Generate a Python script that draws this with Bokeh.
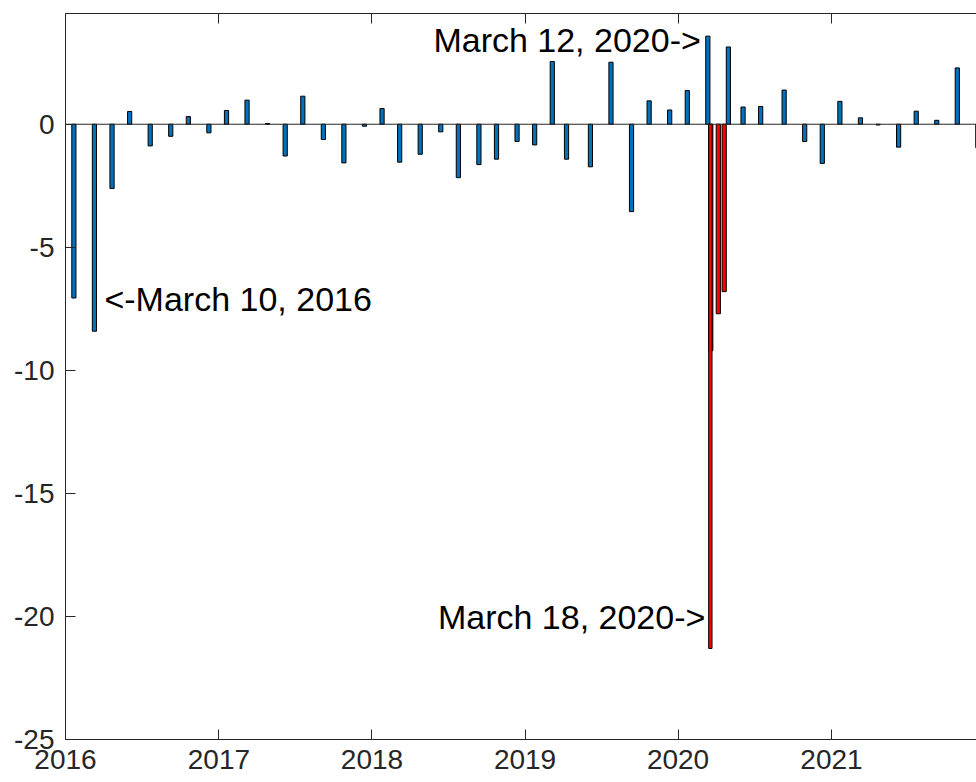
from datetime import datetime, timedelta

import pandas as pd
from bokeh.core.properties import value
from bokeh.embed import file_html
from bokeh.models import (ColumnDataSource, CustomJSTickFormatter, DatetimeAxis,
                          DatetimeTickFormatter, FixedTicker, Range1d, Span)
from bokeh.plotting import figure
from bokeh.resources import INLINE

# ---------------- data ----------------
meeting_dates = [
    "2016-01-21", "2016-03-10", "2016-04-21", "2016-06-02", "2016-07-21", "2016-09-08", "2016-10-20", "2016-12-08",
    "2017-01-19", "2017-03-09", "2017-04-27", "2017-06-08", "2017-07-20", "2017-09-07", "2017-10-26", "2017-12-14",
    "2018-01-25", "2018-03-08", "2018-04-26", "2018-06-14", "2018-07-26", "2018-09-13", "2018-10-25", "2018-12-13",
    "2019-01-24", "2019-03-07", "2019-04-10", "2019-06-06", "2019-07-25", "2019-09-12", "2019-10-24", "2019-12-12",
    "2020-01-23", "2020-03-12", "2020-04-30", "2020-06-04", "2020-07-16", "2020-09-10", "2020-10-29", "2020-12-10",
    "2021-01-21", "2021-03-11", "2021-04-22", "2021-06-10", "2021-07-22", "2021-09-09", "2021-10-28", "2021-12-16",
]
meeting_values = [
    -7.06, -8.41, -2.61, 0.52, -0.88, -0.49, 0.31, -0.35,
    0.56, 0.98, 0.03, -1.29, 1.14, -0.62, -1.57, -0.08,
    0.64, -1.54, -1.22, -0.31, -2.17, -1.64, -1.42, -0.70,
    -0.84, 2.55, -1.42, -1.73, 2.52, -3.55, 0.95, 0.58,
    1.37, 3.58, 3.14, 0.70, 0.72, 1.39, -0.70, -1.59,
    0.93, 0.26, -0.03, -0.93, 0.53, 0.16, 2.29, -0.95,
]

crisis_dates = ["2020-03-19", "2020-03-18", "2020-04-06", "2020-04-20"]
crisis_values = [-9.2, -21.3, -7.7, -6.8]
crisis_colors = ["#990000", "#FF0000", "#FF0000", "#FF0000"]
crisis_widths_days = [10, 8, 10, 10]

year_ticks = [2016, 2017, 2018, 2019, 2020, 2021]
y_ticks = [-25, -20, -15, -10, -5, 0]

annotations_left = [("2016-03-10", -7.09, "<-March 10, 2016")]
annotations_right = [("2020-03-12", 3.41, "March 12, 2020->", -7),
                     ("2020-03-18", -20.04, "March 18, 2020->", -5)]

# ---------------- styling ----------------
DAY_MS = 86400000
AX = "#262626"
FONT = "Liberation Sans"

x_start = datetime(2016, 1, 1)
x_end = x_start + timedelta(days=2172.8)

p = figure(width=976, height=782, x_axis_type="datetime",
           x_range=Range1d(x_start, x_end), y_range=Range1d(-25, 4.5),
           output_backend="svg", toolbar_location=None,
           min_border_left=65, min_border_right=0, min_border_top=13,
           min_border_bottom=43)
p.outline_line_color = None
p.xgrid.visible = False
p.ygrid.visible = False
p.background_fill_color = "white"
p.border_fill_color = "white"

blue = ColumnDataSource(dict(x=pd.to_datetime(meeting_dates), top=meeting_values))
p.vbar(x="x", top="top", bottom=0, width=10 * DAY_MS, source=blue,
       fill_color="#0072BD", line_color="black", line_width=1)

red = ColumnDataSource(dict(x=pd.to_datetime(crisis_dates), top=crisis_values,
                            color=crisis_colors,
                            w=[d * DAY_MS for d in crisis_widths_days]))
p.vbar(x="x", top="top", bottom=0, width="w", source=red,
       fill_color="color", line_color="black", line_width=1)

p.add_layout(Span(location=0, dimension="width", line_color=AX, line_width=1))

year_ms = [pd.Timestamp(f"{y}-01-01").value // 10**6 for y in year_ticks]

xa = p.xaxis[0]
xa.ticker = FixedTicker(ticks=year_ms)
xa.formatter = DatetimeTickFormatter(years="%Y", months="%Y", days="%Y",
                                     hours="%Y", minutes="%Y", seconds="%Y")
ya = p.yaxis[0]
ya.ticker = FixedTicker(ticks=y_ticks)
ya.major_label_overrides = {t: str(t) for t in y_ticks}

for ax in (xa, ya):
    ax.axis_line_color = AX
    ax.axis_line_width = 1
    ax.major_tick_line_color = AX
    ax.major_tick_in = 10
    ax.major_tick_out = 0
    ax.minor_tick_line_color = None
    ax.major_label_text_font = FONT
    ax.major_label_text_font_size = "28px"
    ax.major_label_text_color = AX
xa.major_label_standoff = 10
ya.major_label_standoff = 11

top = DatetimeAxis(ticker=FixedTicker(ticks=year_ms),
                   formatter=CustomJSTickFormatter(code="return ''"))
top.axis_line_color = AX
top.major_tick_line_color = AX
top.major_tick_in = 10
top.major_tick_out = 0
top.minor_tick_line_color = None
top.major_label_standoff = 0
top.major_label_text_font_size = "1px"
p.add_layout(top, "above")

for d, yv, t in annotations_left:
    p.text(x=[pd.Timestamp(d)], y=[yv], text=[t], text_align="left",
           text_baseline="middle", x_offset=10,
           text_font=value(FONT), text_font_size=value("34px"), text_color="black")
for d, yv, t, off in annotations_right:
    p.text(x=[pd.Timestamp(d)], y=[yv], text=[t], text_align="right",
           text_baseline="middle", x_offset=off,
           text_font=value(FONT), text_font_size=value("34px"), text_color="black")

open("out.html", "w").write(file_html(p, INLINE))
